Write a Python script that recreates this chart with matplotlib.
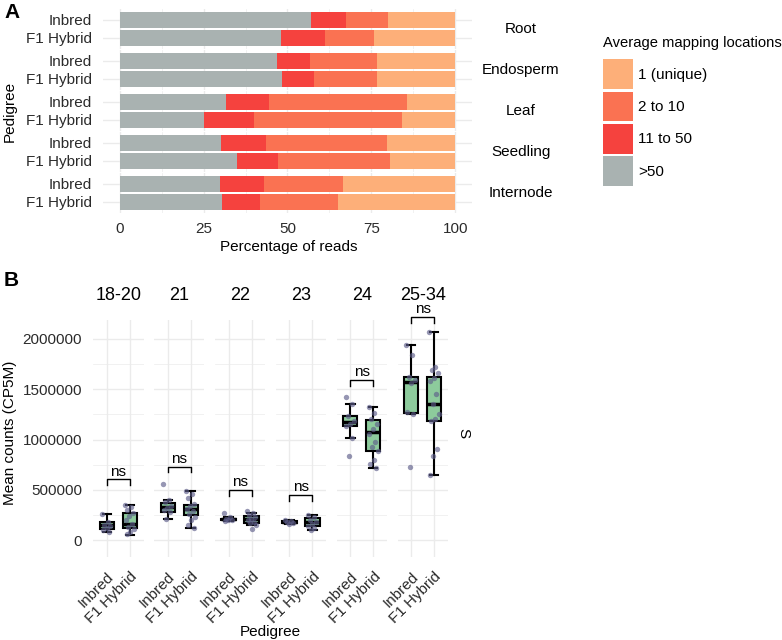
import matplotlib
matplotlib.use("Agg")
import matplotlib.pyplot as plt
from matplotlib.patches import Patch
import numpy as np

plt.rcParams['font.family'] = ['Liberation Sans', 'DejaVu Sans']

# ---------------- Panel A data ----------------
tissues = ["Root", "Endosperm", "Leaf", "Seedling", "Internode"]
pedigrees = ["Inbred", "F1 Hybrid"]
map_cats = [">50", "11 to 50", "2 to 10", "1 (unique)"]
# percentages per tissue, [Inbred, F1 Hybrid]
pct_gt50 = {"Root": [56.9, 48.0], "Endosperm": [47.0, 48.5], "Leaf": [31.6, 25.2],
            "Seedling": [30.2, 35.0], "Internode": [30.0, 30.6]}
pct_11_50 = {"Root": [10.4, 13.1], "Endosperm": [9.6, 9.3], "Leaf": [13.0, 14.9],
             "Seedling": [13.3, 12.2], "Internode": [12.9, 11.1]}
pct_2_10 = {"Root": [12.8, 14.6], "Endosperm": [20.1, 18.9], "Leaf": [40.9, 44.1],
            "Seedling": [36.3, 33.5], "Internode": [23.5, 23.3]}
pct_unique = {"Root": [19.9, 24.3], "Endosperm": [23.3, 23.3], "Leaf": [14.5, 15.8],
              "Seedling": [20.2, 19.3], "Internode": [33.6, 35.0]}
map_colors = {">50": "#A9B2B1", "11 to 50": "#F5423E", "2 to 10": "#FA7252", "1 (unique)": "#FDAF79"}

# ---------------- Panel B data ----------------
size_classes = ["18-20", "21", "22", "23", "24", "25-34"]
# box stats (whislo, q1, med, q3, whishi)
inbred_box = {
    "18-20": [76000, 109000, 146000, 182000, 255000],
    "21": [209000, 282000, 325000, 371000, 398000],
    "22": [185000, 197000, 206000, 214000, 230000],
    "23": [160000, 170000, 178000, 186000, 198000],
    "24": [1012000, 1134000, 1177000, 1234000, 1353000],
    "25-34": [1254000, 1267000, 1575000, 1619000, 1937000],
}
hybrid_box = {
    "18-20": [50000, 116000, 159000, 265000, 348000],
    "21": [116000, 249000, 305000, 348000, 490000],
    "22": [149000, 172000, 209000, 242000, 272000],
    "23": [100000, 139000, 176000, 215000, 249000],
    "24": [713000, 889000, 1078000, 1194000, 1327000],
    "25-34": [644000, 1181000, 1353000, 1625000, 2066000],
}
inbred_pts = {
    "18-20": [255000, 180000, 150000, 140000, 120000, 100000, 80000],
    "21": [557000, 398000, 375000, 340000, 320000, 300000, 280000, 209000],
    "22": [265000, 225000, 210000, 200000, 195000, 185000],
    "23": [195000, 185000, 178000, 170000, 162000],
    "24": [1426000, 1353000, 1230000, 1180000, 1150000, 1130000, 1012000, 836000],
    "25-34": [1937000, 1840000, 1620000, 1590000, 1560000, 1270000, 1254000, 730000],
}
hybrid_pts = {
    "18-20": [348000, 330000, 300000, 270000, 240000, 200000, 160000, 130000, 110000, 80000, 55000],
    "21": [490000, 460000, 420000, 360000, 340000, 310000, 290000, 260000, 230000, 200000, 150000, 116000],
    "22": [290000, 265000, 245000, 225000, 210000, 195000, 180000, 165000, 150000, 109000],
    "23": [249000, 225000, 200000, 180000, 160000, 140000, 115000, 100000],
    "24": [1327000, 1260000, 1200000, 1150000, 1100000, 1050000, 980000, 930000, 889000, 800000, 760000, 713000],
    "25-34": [2066000, 1724000, 1690000, 1660000, 1610000, 1580000, 1450000, 1350000, 1250000, 1200000,
              1181000, 902000, 836000, 644000],
}
ns_level = {"18-20": 604000, "21": 730000, "22": 498000, "23": 448000, "24": 1590000, "25-34": 2220000}
ns_drop = 57000
yticks_B = [0, 500000, 1000000, 1500000, 2000000]

# ---------------- figure ----------------
W, H = 782, 640
fig = plt.figure(figsize=(W / 100, H / 100), dpi=100)

def px_axes(x0, y0, x1, y1):
    return fig.add_axes([x0 / W, 1 - y1 / H, (x1 - x0) / W, (y1 - y0) / H])

grid_c = "#EBEBEB"
txt_c = "#2B2B2B"
FS = 11

# Panel A
panel_h = 39.7
gap = 1.3
top0 = 9.0
for i, t in enumerate(tissues):
    y0 = top0 + i * (panel_h + gap)
    ax = px_axes(103, y0, 472, y0 + panel_h)
    ax.set_xlim(-5, 105)
    ax.set_ylim(0.4, 2.6)
    ypos = [2, 1]
    left = np.zeros(2)
    for cat, src in zip(map_cats, [pct_gt50, pct_11_50, pct_2_10, pct_unique]):
        vals = np.array(src[t])
        ax.barh(ypos, vals, left=left, height=0.9, color=map_colors[cat], linewidth=0, zorder=2)
        left += vals
    ax.set_yticks(ypos)
    ax.set_yticklabels(pedigrees, fontsize=FS, color=txt_c)
    ax.set_xticks([0, 25, 50, 75, 100])
    ax.set_xticks([12.5, 37.5, 62.5, 87.5], minor=True)
    ax.grid(True, which="major", color=grid_c, lw=1.0, zorder=0)
    ax.grid(True, which="minor", axis="x", color=grid_c, lw=0.5, zorder=0)
    ax.tick_params(length=0, pad=8, which="both")
    for s in ax.spines.values():
        s.set_visible(False)
    if i < len(tissues) - 1:
        ax.set_xticklabels([])
    else:
        ax.tick_params(axis="x", labelsize=FS, labelcolor=txt_c, pad=7)
    fig.text(521 / W, 1 - (y0 + panel_h / 2) / H, t, fontsize=FS, ha="center", va="center")

fig.text(289 / W, 1 - 247 / H, "Percentage of reads", fontsize=FS, ha="center", va="center")
fig.text(10 / W, 1 - 111 / H, "Pedigree", fontsize=FS, ha="center", va="center", rotation=90)
fig.text(4 / W, 1 - 12 / H, "A", fontsize=15, fontweight="bold", ha="left", va="center")

handles = [Patch(facecolor=map_colors[c], edgecolor="none") for c in map_cats[::-1]]
leg = fig.legend(handles, map_cats[::-1], loc="upper left", bbox_to_anchor=(600 / W, 1 - 32.5 / H),
                 frameon=False, fontsize=FS, title="Average mapping locations", title_fontsize=10.6,
                 handlelength=1.96, handleheight=2.64, handletextpad=0.35, labelspacing=0.15,
                 borderaxespad=0, borderpad=0.2, alignment="left")
leg._legend_box.sep = 7

# Panel B
green = "#8DCB9C"
pt_c = "#5E5E8A"
ylo, yhi = -169000, 2189000
for i, sc in enumerate(size_classes):
    x0 = 93 + i * 60.9
    ax = px_axes(x0, 320, x0 + 50.5, 557)
    ax.set_xlim(0.4, 2.6)
    ax.set_ylim(ylo, yhi)
    stats = []
    for lab, b in zip(pedigrees, [inbred_box[sc], hybrid_box[sc]]):
        stats.append(dict(whislo=b[0], q1=b[1], med=b[2], q3=b[3], whishi=b[4], label=lab))
    ax.bxp(stats, positions=[1, 2], widths=0.62, patch_artist=True, showfliers=False,
           boxprops=dict(facecolor=green, edgecolor="black", lw=1.5),
           medianprops=dict(color="black", lw=2.5),
           whiskerprops=dict(color="black", lw=1.5),
           capprops=dict(color="black", lw=1.5), capwidths=0.36, zorder=3)
    for pos, pts in zip([1, 2], [inbred_pts[sc], hybrid_pts[sc]]):
        n = len(pts)
        offs = (((np.arange(n) * 0.618) % 1.0) - 0.5) * 0.42
        ax.scatter(pos + offs, pts, s=15, color=pt_c, alpha=0.65, linewidths=0, zorder=4)
    lvl = ns_level[sc]
    ax.plot([1, 1, 2, 2], [lvl - ns_drop, lvl, lvl, lvl - ns_drop], color="black", lw=1.0,
            clip_on=False, zorder=5)
    ax.text(1.5, lvl + 8000, "ns", fontsize=FS, ha="center", va="bottom", clip_on=False)
    ax.set_yticks(yticks_B)
    ax.set_yticks([250000, 750000, 1250000, 1750000], minor=True)
    ax.set_xticks([1, 2])
    ax.set_xticklabels(pedigrees, rotation=45, ha="right", va="top", rotation_mode="anchor",
                       fontsize=FS, color=txt_c)
    ax.grid(True, which="major", color=grid_c, lw=1.0, zorder=0)
    ax.grid(True, which="minor", axis="y", color=grid_c, lw=0.5, zorder=0)
    ax.tick_params(length=0, which="both")
    ax.tick_params(axis="x", pad=9)
    if i == 0:
        ax.set_yticklabels([str(v) for v in yticks_B], fontsize=FS, color=txt_c)
        ax.tick_params(axis="y", pad=8)
    else:
        ax.set_yticklabels([])
    for s in ax.spines.values():
        s.set_visible(False)
    ax.text(0.5, 1 + 25 / 237, sc, transform=ax.transAxes, fontsize=13, ha="center", va="center")

fig.text(270 / W, 1 - 632 / H, "Pedigree", fontsize=FS, ha="center", va="center")
fig.text(10 / W, 1 - 433 / H, "Mean counts (CP5M)", fontsize=FS, ha="center", va="center", rotation=90)
fig.text(463 / W, 1 - 433 / H, "S", fontsize=FS, ha="center", va="center", rotation=270)
fig.text(4 / W, 1 - 280 / H, "B", fontsize=15, fontweight="bold", ha="left", va="center")

fig.savefig("out.png", dpi=100)
